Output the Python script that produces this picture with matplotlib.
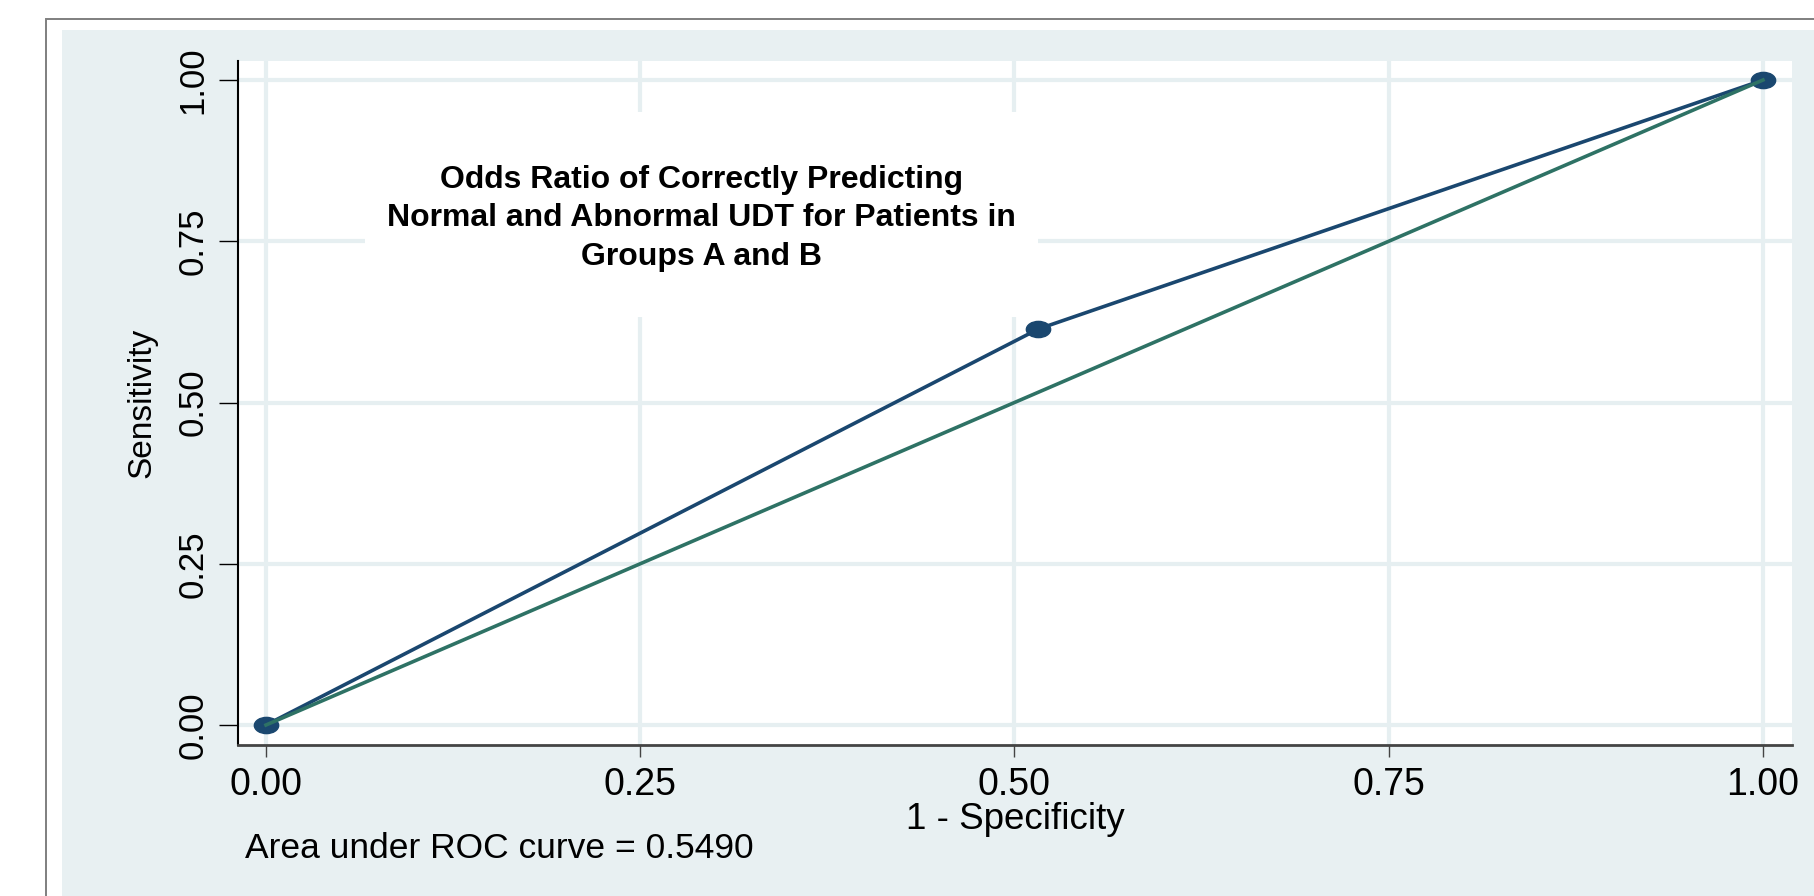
import numpy as np
import matplotlib
matplotlib.use("Agg")
import matplotlib.pyplot as plt
from matplotlib.patches import Rectangle
from matplotlib.path import Path
from matplotlib.transforms import Affine2D

plt.rcParams['font.family'] = ['Liberation Sans', 'DejaVu Sans']

# ROC points (1 - specificity, sensitivity)
fpr = [0.0, 0.516, 1.0]
tpr = [0.0, 0.614, 1.0]
ref = [0.0, 1.0]
ticks = [0.0, 0.25, 0.5, 0.75, 1.0]
tick_labels = ["0.00", "0.25", "0.50", "0.75", "1.00"]
title = "Odds Ratio of Correctly Predicting\nNormal and Abnormal UDT for Patients in\nGroups A and B"

auc = np.trapezoid(tpr, fpr)

navy = '#1a476f'
teal = '#2e7265'
bg = '#e8f0f2'
grid = '#e6eff1'

fig = plt.figure(figsize=(18.15, 8.96), dpi=100)

# outer frame and shaded graph region
fig.patches.append(Rectangle((46 / 1815, -0.1), 1.2, 1.1 - 19 / 896,
                             transform=fig.transFigure, facecolor='white',
                             edgecolor='#7f7f7f', linewidth=1.4, zorder=-10))
fig.patches.append(Rectangle((62 / 1815, -0.1), 1.2, 1.1 - 30 / 896,
                             transform=fig.transFigure, facecolor=bg,
                             edgecolor='none', zorder=-9))

ax = fig.add_axes([238 / 1815, 1 - 745 / 896, (1792 - 238) / 1815, (745 - 61) / 896])
ax.set_zorder(1)
ax.set_facecolor('white')
ax.set_xlim(-0.0187, 1.0194)
ax.set_ylim(-0.031, 1.0295)

ax.set_xticks(ticks)
ax.set_xticklabels(tick_labels)
ax.set_yticks(ticks)
ax.set_yticklabels(tick_labels)
ax.grid(True, color=grid, linewidth=3.0, zorder=0)
ax.set_axisbelow(True)

for s in ['top', 'right']:
    ax.spines[s].set_visible(False)
ax.spines['left'].set_color('black')
ax.spines['left'].set_linewidth(1.5)
ax.spines['bottom'].set_color('#444444')
ax.spines['bottom'].set_linewidth(2.0)

ax.tick_params(axis='x', length=8.6, width=1.0, color='#444444', pad=7, labelsize=27)
ax.tick_params(axis='y', length=13.7, width=1.0, color='black', pad=7, labelsize=25,
               labelrotation=90)
for lbl in ax.get_yticklabels():
    lbl.set_va('center')

# white box behind the annotation
ax.add_patch(Rectangle((0.0817, 0.6257), 0.4331, 0.2997, transform=ax.transAxes,
                       facecolor='white', edgecolor='none', zorder=1))
ax.text(0.298, 0.770, title, transform=ax.transAxes, ha='center', va='center',
        fontsize=23, fontweight='bold', linespacing=1.38, zorder=2)

ell = Path.unit_circle().transformed(Affine2D().scale(1.5, 1.0))
ax.plot(fpr, tpr, color=navy, linewidth=2.6, marker=ell, markersize=17.5,
        markerfacecolor=navy, markeredgecolor=navy, zorder=3, clip_on=False)
ax.plot(ref, ref, color=teal, linewidth=2.6, zorder=4, clip_on=False)

ax.set_xlabel("1 - Specificity", fontsize=26.5)
ax.xaxis.set_label_coords(0.5, -0.084)
ax.set_ylabel("Sensitivity", fontsize=24)
ax.yaxis.set_label_coords(-0.052, 0.5)

fig.text(245 / 1815, 1 - 858 / 896, f"Area under ROC curve = {auc:.4f}",
         fontsize=25.5, va='baseline', ha='left')

fig.savefig("out.png", dpi=100)
